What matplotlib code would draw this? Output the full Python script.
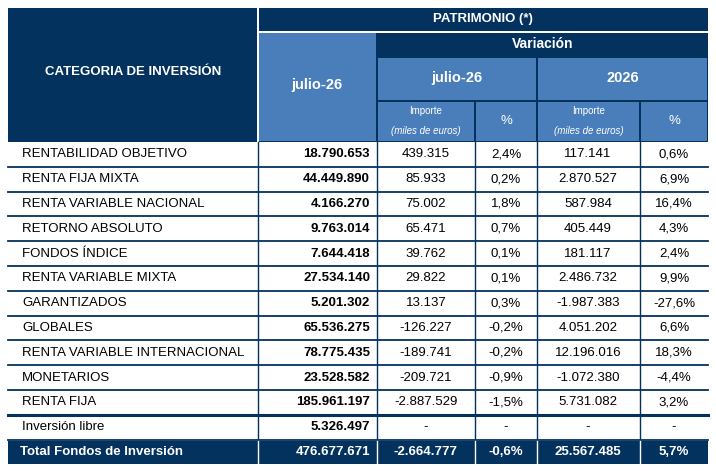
import matplotlib.pyplot as plt
from matplotlib.patches import Rectangle

categorias = ['RENTABILIDAD OBJETIVO', 'RENTA FIJA MIXTA', 'RENTA VARIABLE NACIONAL',
              'RETORNO ABSOLUTO', 'FONDOS ÍNDICE', 'RENTA VARIABLE MIXTA', 'GARANTIZADOS',
              'GLOBALES', 'RENTA VARIABLE INTERNACIONAL', 'MONETARIOS', 'RENTA FIJA',
              'Inversión libre']
patrimonio = ['18.790.653', '44.449.890', '4.166.270', '9.763.014', '7.644.418', '27.534.140',
              '5.201.302', '65.536.275', '78.775.435', '23.528.582', '185.961.197', '5.326.497']
var_mes = ['439.315', '85.933', '75.002', '65.471', '39.762', '29.822', '13.137',
           '-126.227', '-189.741', '-209.721', '-2.887.529', '-']
var_mes_pct = ['2,4%', '0,2%', '1,8%', '0,7%', '0,1%', '0,1%', '0,3%', '-0,2%', '-0,2%',
               '-0,9%', '-1,5%', '-']
var_anio = ['117.141', '2.870.527', '587.984', '405.449', '181.117', '2.486.732', '-1.987.383',
            '4.051.202', '12.196.016', '-1.072.380', '5.731.082', '-']
var_anio_pct = ['0,6%', '6,9%', '16,4%', '4,3%', '2,4%', '9,9%', '-27,6%', '6,6%', '18,3%',
                '-4,4%', '3,2%', '-']
total = ['Total Fondos de Inversión', '476.677.671', '-2.664.777', '-0,6%', '25.567.485', '5,7%']

navy = '#04325f'
light = '#4a7ebb'
font = ['Liberation Sans', 'DejaVu Sans']

fig = plt.figure(figsize=(7.16, 4.71), dpi=100)
ax = fig.add_axes([0, 0, 1, 1])
ax.set_xlim(0, 716)
ax.set_ylim(471, 0)
ax.axis('off')

xs = [8, 258, 377, 475, 537, 640, 708]

def box(x0, y0, x1, y1, c):
    ax.add_patch(Rectangle((x0, y0), x1 - x0, y1 - y0, color=c, lw=0))

def txt(x, y, s, **kw):
    kw.setdefault('ha', 'center')
    kw.setdefault('color', 'white')
    kw.setdefault('fontsize', 9.5)
    ax.text(x, y, s, va='center', family=font, **kw)

# header
box(8, 8, 708, 142, navy)
box(259, 33, 376, 141, light)
box(378, 58, 536, 100, light)
box(538, 58, 707, 100, light)
box(378, 102, 474, 141, light)
box(476, 102, 536, 141, light)
box(538, 102, 639, 141, light)
box(641, 102, 707, 141, light)
box(257, 8, 259, 142, 'white')
box(258, 31, 708, 33, 'white')
txt(133, 72, 'CATEGORIA DE INVERSIÓN', weight='bold')
txt(483, 19, 'PATRIMONIO (*)', weight='bold')
txt(543, 44, 'Variación', weight='bold', fontsize=10)
txt(317, 85, 'julio-26', weight='bold', fontsize=10.5)
txt(457, 78, 'julio-26', weight='bold', fontsize=10.5)
txt(623, 78, '2026', weight='bold', fontsize=10.5)
for a, b in [(377, 475), (537, 640)]:
    txt((a + b) / 2, 111, 'Importe', fontsize=7)
    txt((a + b) / 2, 131, '(miles de euros)', fontsize=7, style='italic')
for a, b in [(475, 537), (640, 708)]:
    txt((a + b) / 2, 121, '%', fontsize=9.5)

# data rows
top = 142
h = 24.8
for i in range(len(categorias)):
    yc = top + h * (i + 0.5)
    txt(22, yc, categorias[i], ha='left', color='black')
    txt(370, yc, patrimonio[i], ha='right', color='black', weight='bold')
    txt(426, yc, var_mes[i], color='black')
    txt(506, yc, var_mes_pct[i], color='black')
    txt(588, yc, var_anio[i], color='black')
    txt(674, yc, var_anio_pct[i], color='black')
    yb = top + h * (i + 1)
    ax.plot([8, 708], [yb, yb], color=navy, lw=2.2 if i == 10 else 1.3)
for x in xs[1:-1]:
    ax.plot([x, x], [142, top + h * 12], color=navy, lw=1)

# total row
yt0 = top + h * 12 + 1
box(8, yt0, 708, 464, navy)
yc = (yt0 + 464) / 2
txt(20, yc, total[0], ha='left', weight='bold')
txt(370, yc, total[1], ha='right', weight='bold')
txt(426, yc, total[2], weight='bold')
txt(506, yc, total[3], weight='bold')
txt(588, yc, total[4], weight='bold')
txt(674, yc, total[5], weight='bold')
for x in xs[1:-1]:
    ax.plot([x, x], [yt0, 464], color='white', lw=1)

fig.savefig('out.png', dpi=100)
